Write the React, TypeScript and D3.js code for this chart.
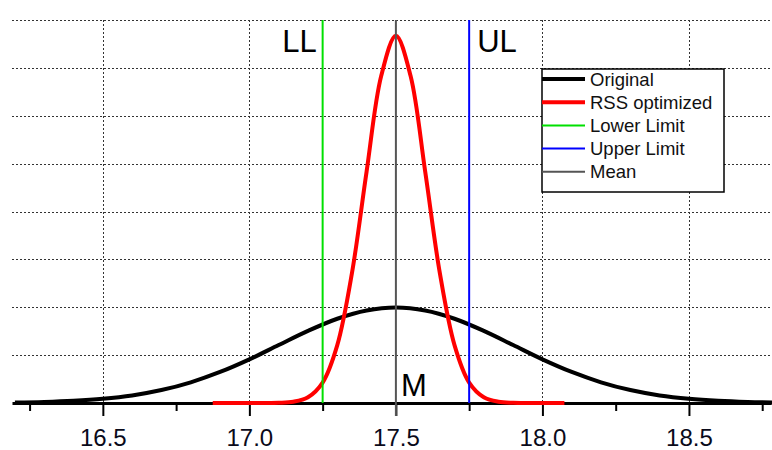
import React, { useEffect, useRef } from 'react';
import * as d3 from 'd3';

// Original distribution
const originalX = [16.2, 16.3, 16.4, 16.5, 16.6, 16.7, 16.8, 16.9, 17.0, 17.1, 17.2, 17.3, 17.4, 17.5,
  17.6, 17.7, 17.8, 17.9, 18.0, 18.1, 18.2, 18.3, 18.4, 18.5, 18.6, 18.7, 18.8];
const originalY = [0.005, 0.011, 0.023, 0.044, 0.079, 0.135, 0.216, 0.324, 0.456, 0.605, 0.753, 0.88, 0.966, 0.997,
  0.966, 0.88, 0.753, 0.605, 0.456, 0.324, 0.216, 0.135, 0.079, 0.044, 0.023, 0.011, 0.005];

// RSS optimized distribution
const rssX = [16.875, 16.9, 16.95, 17.0, 17.05, 17.1, 17.15, 17.2, 17.25, 17.3, 17.35, 17.4, 17.45, 17.5,
  17.55, 17.6, 17.65, 17.7, 17.75, 17.8, 17.85, 17.9, 17.95, 18.0, 18.05, 18.075];
const rssY = [0, 0, 0, 0, 0.0003, 0.0024, 0.0133, 0.06, 0.213, 0.604, 1.356, 2.416, 3.417, 3.836,
  3.417, 2.416, 1.356, 0.604, 0.213, 0.06, 0.0133, 0.0024, 0.0003, 0, 0, 0];

const lowerLimit = 17.25;
const upperLimit = 17.75;
const mean = 17.5;

const majorTicks = [16.5, 17.0, 17.5, 18.0, 18.5];
const minorTicks = [16.25, 16.75, 17.25, 17.75, 18.25, 18.75];
const gridY = [0.5, 1, 1.5, 2, 2.5, 3, 3.5, 4];

const legendNames = ['Original', 'RSS optimized', 'Lower Limit', 'Upper Limit', 'Mean'];
const legendColors = ['#000000', '#ff0000', '#00e000', '#0000ff', '#555555'];
const legendWidths = [4, 4, 2, 2, 2];

const W = 772;
const H = 450;

const App = () => {
  const ref = useRef<SVGSVGElement>(null);

  useEffect(() => {
    const svg = d3.select(ref.current);
    svg.selectAll('*').remove();

    const font = '"Liberation Sans", Arial, sans-serif';
    const x = d3.scaleLinear().domain([16.19, 18.78]).range([12, 771]);
    const y = d3.scaleLinear().domain([0, 4]).range([403, 20]);

    // grid
    const grid = svg.append('g')
      .attr('stroke', '#333')
      .attr('stroke-width', 1)
      .attr('stroke-dasharray', '2,2');
    grid.selectAll('.gy')
      .data(gridY)
      .enter()
      .append('line')
      .attr('x1', x.range()[0])
      .attr('x2', W)
      .attr('y1', d => Math.round(y(d)) + 0.5)
      .attr('y2', d => Math.round(y(d)) + 0.5);
    grid.selectAll('.gx')
      .data(majorTicks.filter(d => d !== mean))
      .enter()
      .append('line')
      .attr('x1', d => Math.round(x(d)) + 0.5)
      .attr('x2', d => Math.round(x(d)) + 0.5)
      .attr('y1', y(4))
      .attr('y2', y(0));

    // curves
    const line = d3.line<[number, number]>()
      .x(d => x(d[0]))
      .y(d => y(d[1]))
      .curve(d3.curveCatmullRom);

    svg.append('path')
      .datum(originalX.map((v, i) => [v, originalY[i]] as [number, number]))
      .attr('d', line)
      .attr('fill', 'none')
      .attr('stroke', '#000')
      .attr('stroke-width', 4);

    // x axis
    const axis = svg.append('g').attr('transform', `translate(0, ${y(0)})`);
    axis.call(
      d3.axisBottom(x)
        .tickValues(majorTicks)
        .tickFormat(d3.format('.1f'))
        .tickSize(13)
        .tickSizeOuter(0)
        .tickPadding(13)
    );
    axis.select('.domain').attr('stroke', '#000').attr('stroke-width', 3);
    axis.selectAll('.tick line').attr('stroke', '#000').attr('stroke-width', 2);
    axis.selectAll('.tick text')
      .attr('fill', '#0a0a1a')
      .style('font-family', font)
      .style('font-size', '24px');

    const minor = svg.append('g').attr('transform', `translate(0, ${y(0)})`);
    minor.call(d3.axisBottom(x).tickValues(minorTicks).tickSize(8).tickSizeOuter(0).tickFormat(() => ''));
    minor.select('.domain').remove();
    minor.selectAll('.tick line').attr('stroke', '#000').attr('stroke-width', 2);

    svg.append('path')
      .datum(rssX.map((v, i) => [v, rssY[i]] as [number, number]))
      .attr('d', line)
      .attr('fill', 'none')
      .attr('stroke', '#ff0000')
      .attr('stroke-width', 4);

    // limit and mean lines
    svg.append('line')
      .attr('x1', x(lowerLimit)).attr('x2', x(lowerLimit))
      .attr('y1', y(4)).attr('y2', y(0))
      .attr('stroke', '#00e000').attr('stroke-width', 2);
    svg.append('line')
      .attr('x1', x(upperLimit)).attr('x2', x(upperLimit))
      .attr('y1', y(4)).attr('y2', y(0))
      .attr('stroke', '#0000ff').attr('stroke-width', 2);
    svg.append('line')
      .attr('x1', x(mean)).attr('x2', x(mean))
      .attr('y1', y(4)).attr('y2', y(0) + 13)
      .attr('stroke', '#555').attr('stroke-width', 2);

    // labels
    const label = (t: string, px: number, py: number, anchor: string) =>
      svg.append('text')
        .attr('x', px).attr('y', py)
        .attr('text-anchor', anchor)
        .attr('fill', '#000')
        .style('font-family', font)
        .style('font-size', '31px')
        .text(t);
    label('LL', x(lowerLimit) - 6, 52, 'end');
    label('UL', x(upperLimit) + 8, 52, 'start');
    label('M', x(mean) + 5, 396, 'start');

    // legend
    const lg = svg.append('g').attr('transform', 'translate(542, 69)');
    lg.append('rect')
      .attr('width', 182).attr('height', 123)
      .attr('fill', '#fff')
      .attr('stroke', '#000').attr('stroke-width', 1.5);
    legendNames.forEach((name, i) => {
      const ry = 10 + i * 23.2;
      lg.append('line')
        .attr('x1', 0).attr('x2', 43)
        .attr('y1', ry).attr('y2', ry)
        .attr('stroke', legendColors[i])
        .attr('stroke-width', legendWidths[i]);
      lg.append('text')
        .attr('x', 48).attr('y', ry + 6.5)
        .attr('fill', '#111')
        .style('font-family', font)
        .style('font-size', '18.5px')
        .text(name);
    });
  }, []);

  return (
    <svg ref={ref} width={W} height={H}
      style={{ position: 'absolute', left: 0, top: 0, background: '#fff' }} />
  );
};

export default App;
